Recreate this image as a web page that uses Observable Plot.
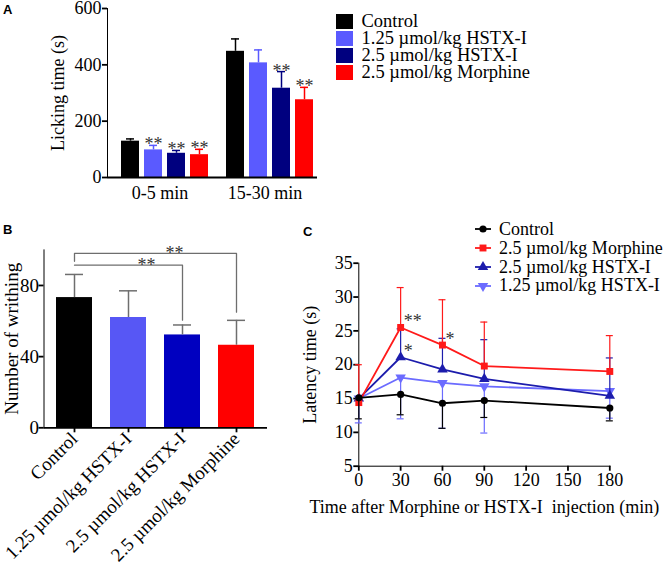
<!DOCTYPE html>
<html>
<head>
<meta charset="utf-8">
<script src="https://cdn.jsdelivr.net/npm/d3@7"></script>
<script src="https://cdn.jsdelivr.net/npm/@observablehq/plot@0.6"></script>
<style>
  html, body { margin: 0; padding: 0; background: #fff; }
  #root { position: relative; width: 666px; height: 565px; overflow: hidden; background: #fff;
          font-family: "Liberation Serif", "Times New Roman", serif; color: #000; }
  #root svg [aria-label*="axis"] { stroke-width: 1.8px; }
  .plabel { position: absolute; font-family: "Liberation Sans", Arial, sans-serif; font-weight: bold;
            font-size: 13px; line-height: 13px; }
  .leg { position: absolute; }
  .leg .row { display: flex; align-items: center; white-space: nowrap; overflow: visible; }
  .leg .tx { display: inline-block; overflow: visible; }
</style>
</head>
<body>
<div id="root"></div>
<script>
// ---------------- Panel A data ----------------
const groupsA = ["0-5 min", "15-30 min"];
const seriesA = ["Control", "1.25 µmol/kg HSTX-I", "2.5 µmol/kg HSTX-I", "2.5 µmol/kg Morphine"];
const meanA0to5 = [129, 98, 86, 81];
const errA0to5 = [8, 16, 10, 19];
const starsA0to5 = ["", "**", "**", "**"];
const meanA15to30 = [448, 407, 317, 276];
const errA15to30 = [44, 46, 59, 44];
const starsA15to30 = ["", "", "**", "**"];
const yTicksA = [0, 200, 400, 600];
const colorsA = ["#000000", "#5a5aff", "#00007f", "#ff0000"];

// ---------------- Panel B data ----------------
const groupsB = ["Control", "1.25 µmol/kg HSTX-I", "2.5 µmol/kg HSTX-I", "2.5 µmol/kg Morphine"];
const meanB = [73.2, 62, 52.2, 46.4];
const errB = [13, 15, 5.6, 14];
const yTicksB = [0, 40, 80];
const colorsB = ["#000000", "#5757f5", "#0000c0", "#ff0000"];
const bracketFromB = ["Control", "Control"];
const bracketToB = ["2.5 µmol/kg HSTX-I", "2.5 µmol/kg Morphine"];
const bracketTopB = [91.4, 98];
const bracketLeftEndB = [91.4, 93.6];
const bracketRightEndB = [60.5, 65];
const bracketStarsB = ["**", "**"];

// ---------------- Panel C data ----------------
const timesC = [0, 30, 60, 90, 180];
const seriesC = ["Control", "2.5 µmol/kg Morphine", "2.5 µmol/kg HSTX-I", "1.25 µmol/kg HSTX-I"];
const controlC = [15.1, 15.6, 14.3, 14.7, 13.6];
const controlErrC = [3.1, 3.0, 3.7, 2.5, 1.9];
const morphineC = [14.4, 25.5, 22.9, 19.8, 19.0];
const morphineErrC = [5.6, 5.9, 6.7, 6.5, 5.3];
const hstx25C = [15.0, 21.1, 19.3, 17.9, 15.4];
const hstx25ErrC = [0, 4.2, 4.6, 5.8, 5.6];
const hstx125C = [15.0, 18.1, 17.3, 16.8, 16.1];
const hstx125ErrC = [3.6, 6.1, 6.7, 6.9, 4.0];
const errDirC = [-1, 1, 1, -1];
const xTicksC = [0, 30, 60, 90, 120, 150, 180];
const yTicksC = [5, 10, 15, 20, 25, 30, 35];
const colorsC = ["#000000", "#ff1a1a", "#1c1cac", "#6b6bff"];
const symbolsC = ["circle", "square", "triangle", "triangle"];
const symbolRotateC = [0, 0, 0, 180];
const starSeriesC = [1, 1, 2];
const starTimeIdxC = [1, 2, 1];
const starTextC = ["**", "*", "*"];
const xLabelC = "Time after Morphine or HSTX-I\u00a0 injection (min)";

// ---------------- helpers ----------------
const SERIF = "'Liberation Serif', 'Times New Roman', serif";
const root = document.getElementById("root");
function place(el, left, top) {
  el.style.position = "absolute";
  el.style.left = left + "px";
  el.style.top = top + "px";
  root.appendChild(el);
  return el;
}
function baseStyle(size) {
  return {fontFamily: SERIF, fontSize: size, color: "#000", background: "transparent", overflow: "visible"};
}

// ---------------- Panel A ----------------
const meansA = [meanA0to5, meanA15to30], errsA = [errA0to5, errA15to30], starsA = [starsA0to5, starsA15to30];
const rowsA = groupsA.flatMap((g, gi) => seriesA.map((s, si) => ({
  group: g, series: s, mean: meansA[gi][si], top: meansA[gi][si] + errsA[gi][si], star: starsA[gi][si]
})));

const plotA = Plot.plot({
  width: 330, height: 205,
  marginLeft: 107, marginRight: 13, marginTop: 8, marginBottom: 28,
  style: baseStyle("18px"),
  facet: {data: rowsA, x: "group"},
  fx: {domain: groupsA, padding: 0, axis: "bottom", label: null, tickSize: 0, tickPadding: 9},
  x: {domain: seriesA, axis: null, paddingInner: 0.22, paddingOuter: 0, insetLeft: 14, insetRight: 4},
  y: {domain: [0, 600], ticks: yTicksA, tickSize: 5, tickPadding: 1, line: true,
      label: "Licking time (s)", labelAnchor: "center", labelOffset: 56, labelArrow: "none"},
  color: {domain: seriesA, range: colorsA},
  marks: [
    Plot.barY(rowsA, {x: "series", y: "mean", fill: "series"}),
    Plot.ruleX(rowsA, {x: "series", y1: "mean", y2: "top", stroke: "series", strokeWidth: 1.5}),
    Plot.tickY(rowsA, {x: "series", y: "top", stroke: "series", strokeWidth: 1.5, insetLeft: 5, insetRight: 5}),
    Plot.text(rowsA, {x: "series", y: "top", text: "star", lineAnchor: "bottom", dy: 5, fill: "#333", fontSize: 18}),
    Plot.ruleY([0], {strokeWidth: 1.8})
  ]
});
place(plotA, 0, 0);

// ---------------- Panel B ----------------
const rowsB = groupsB.map((s, i) => ({series: s, mean: meanB[i], top: meanB[i] + errB[i]}));
const bracketsB = bracketToB.flatMap((to, i) => [
  {id: i, x: bracketFromB[i], y: bracketLeftEndB[i]},
  {id: i, x: bracketFromB[i], y: bracketTopB[i]},
  {id: i, x: to, y: bracketTopB[i]},
  {id: i, x: to, y: bracketRightEndB[i]}
]);
const starsB = bracketToB.map((to, i) => ({x: to, y: bracketTopB[i], text: bracketStarsB[i]}));

const plotB = Plot.plot({
  width: 290, height: 325,
  marginLeft: 43.5, marginRight: 23, marginTop: 9.4, marginBottom: 137.7,
  style: baseStyle("19px"),
  x: {domain: groupsB, paddingInner: 0.33, paddingOuter: 0.2, tickRotate: -45, tickSize: 5, tickPadding: 3, label: null},
  y: {domain: [0, 100], ticks: yTicksB, tickSize: 5, tickPadding: 0, line: true,
      label: "Number of writhing", labelAnchor: "center", labelOffset: 40, labelArrow: "none"},
  color: {domain: groupsB, range: colorsB},
  marks: [
    Plot.barY(rowsB, {x: "series", y: "mean", fill: "series"}),
    Plot.ruleX(rowsB, {x: "series", y1: "mean", y2: "top", stroke: "#6e6e6e", strokeWidth: 1.5}),
    Plot.tickY(rowsB, {x: "series", y: "top", stroke: "#6e6e6e", strokeWidth: 1.5, insetLeft: 9, insetRight: 9}),
    Plot.line(bracketsB, {x: "x", y: "y", z: "id", stroke: "#6e6e6e", strokeWidth: 1.3}),
    Plot.text([starsB[0]], {x: "x", y: "y", text: "text", dx: -36, dy: 6, lineAnchor: "bottom", fill: "#333", fontSize: 18}),
    Plot.text([starsB[1]], {x: "x", y: "y", text: "text", dx: -62, dy: 6, lineAnchor: "bottom", fill: "#333", fontSize: 18}),
    Plot.ruleY([0], {strokeWidth: 1.8})
  ]
});
place(plotB, 0, 240);

// ---------------- Panel C ----------------
const valuesC = [controlC, morphineC, hstx25C, hstx125C];
const errsC = [controlErrC, morphineErrC, hstx25ErrC, hstx125ErrC];
const rowsByC = seriesC.map((s, k) => timesC.map((t, i) => ({
  series: s, t, v: valuesC[k][i], e: valuesC[k][i] + errDirC[k] * errsC[k][i]
})));
const starsC = starSeriesC.map((k, j) => ({t: timesC[starTimeIdxC[j]], v: valuesC[k][starTimeIdxC[j]], text: starTextC[j]}));

const marksC = [];
for (const k of [3, 2, 1, 0]) {
  const rows = rowsByC[k];
  const errRows = rows.filter(d => d.e !== d.v);
  marksC.push(
    Plot.ruleX(errRows, {x: "t", y1: "v", y2: "e", stroke: "series", strokeWidth: 1.2}),
    Plot.ruleY(errRows, {x1: "t", x2: "t", y: "e", insetLeft: -3.5, insetRight: -3.5, stroke: "series", strokeWidth: 1.2}),
    Plot.line(rows, {x: "t", y: "v", stroke: "series", strokeWidth: 1.8}),
    Plot.dot(rows, {x: "t", y: "v", fill: "series", stroke: "none", symbol: symbolsC[k],
                    r: k === 0 ? 3.6 : 3.9, rotate: symbolRotateC[k]})
  );
}
marksC.push(Plot.text(starsC, {x: "t", y: "v", text: "text", textAnchor: "start", dx: 3, dy: 0,
                               lineAnchor: "bottom", fill: "#333", fontSize: 18}));

const plotC = Plot.plot({
  width: 376, height: 345,
  marginLeft: 68.3, marginRight: 56.7, marginTop: 42.7, marginBottom: 99.3,
  style: baseStyle("18px"),
  x: {domain: [0, 180], ticks: xTicksC, tickSize: 5, tickPadding: 2, line: true,
      label: xLabelC, labelAnchor: "center", labelOffset: 47, labelArrow: "none"},
  y: {domain: [5, 35], ticks: yTicksC, tickSize: 5, tickPadding: 1, line: true,
      label: "Latency time (s)", labelAnchor: "center", labelOffset: 56, labelArrow: "none"},
  color: {domain: seriesC, range: colorsC},
  marks: marksC
});
place(plotC, 290, 220);

// ---------------- Legends ----------------
const legA = document.createElement("div");
legA.className = "leg";
legA.style.fontSize = "18.5px";
legA.style.lineHeight = "17px";
seriesA.forEach((s, i) => {
  const row = document.createElement("div");
  row.className = "row";
  row.style.height = "17px";
  const sw = document.createElement("span");
  sw.style.cssText = `display:inline-block;width:17.5px;height:14.5px;background:${colorsA[i]};margin-right:8.5px;`;
  const tx = document.createElement("span");
  tx.className = "tx";
  tx.style.height = "17px";
  tx.style.lineHeight = "17px";
  tx.textContent = s;
  row.append(sw, tx);
  legA.appendChild(row);
});
place(legA, 335.5, 13);

const legC = document.createElement("div");
legC.className = "leg";
legC.style.fontSize = "18px";
legC.style.lineHeight = "18.8px";
const symbolMap = {circle: d3.symbolCircle, square: d3.symbolSquare, triangle: d3.symbolTriangle};
seriesC.forEach((s, k) => {
  const row = document.createElement("div");
  row.className = "row";
  row.style.height = "18.8px";
  const ns = "http://www.w3.org/2000/svg";
  const svg = document.createElementNS(ns, "svg");
  svg.setAttribute("width", 16);
  svg.setAttribute("height", 12);
  svg.style.marginRight = "8.5px";
  svg.style.overflow = "visible";
  const ln = document.createElementNS(ns, "line");
  ln.setAttribute("x1", 0); ln.setAttribute("x2", 16); ln.setAttribute("y1", 6); ln.setAttribute("y2", 6);
  ln.setAttribute("stroke", colorsC[k]); ln.setAttribute("stroke-width", 1.8);
  const p = document.createElementNS(ns, "path");
  const r = k === 0 ? 3.6 : 3.9;
  p.setAttribute("d", d3.symbol(symbolMap[symbolsC[k]], Math.PI * r * r)());
  p.setAttribute("transform", `translate(8,6) rotate(${symbolRotateC[k]})`);
  p.setAttribute("fill", colorsC[k]);
  svg.append(ln, p);
  const tx = document.createElement("span");
  tx.className = "tx";
  tx.style.height = "18.8px";
  tx.style.lineHeight = "18.8px";
  tx.textContent = s;
  row.append(svg, tx);
  legC.appendChild(row);
});
place(legC, 474.5, 220);

// ---------------- Panel letters ----------------
[["A", 3, 3], ["B", 3, 223], ["C", 303, 225]].forEach(([t, x, y]) => {
  const d = document.createElement("div");
  d.className = "plabel";
  d.textContent = t;
  place(d, x, y);
});
</script>
</body>
</html>
